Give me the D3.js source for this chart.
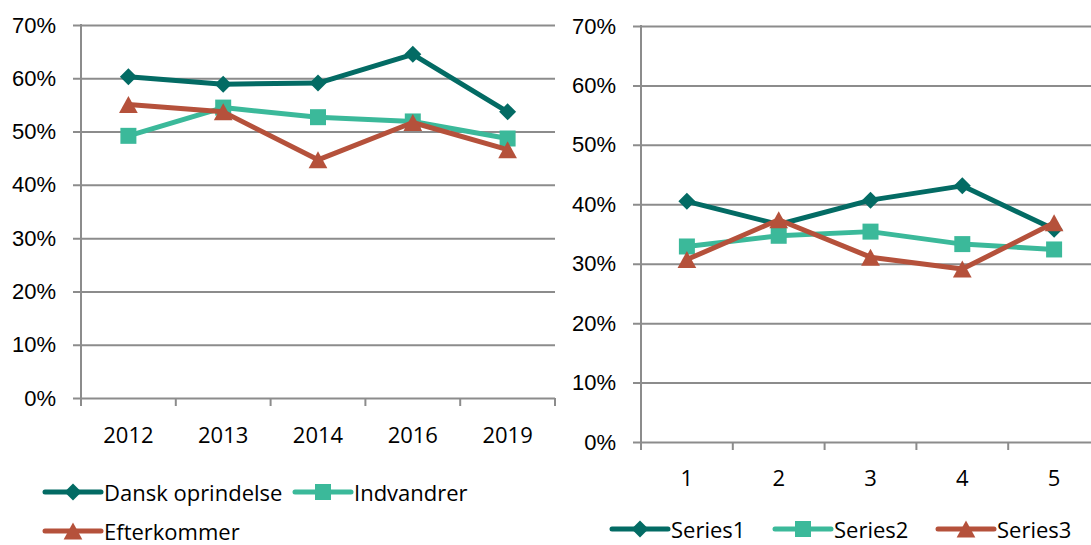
<!DOCTYPE html>
<html>
<head>
<meta charset="utf-8">
<title>Line charts</title>
<script src="https://d3js.org/d3.v7.min.js"></script>
<style>
  body { margin: 0; background: #fff; }
  svg { display: block; font-family: "Open Sans", "Noto Sans", sans-serif; }
  .lbl { font-size: 22px; fill: #000; }
</style>
</head>
<body>
<svg id="chart" width="1091" height="545"></svg>
<script>
// left chart data
var years = ["2012", "2013", "2014", "2016", "2019"];
var dansk = [0.603, 0.589, 0.591, 0.645, 0.537];
var indvandrer = [0.492, 0.545, 0.527, 0.519, 0.487];
var efterkommer = [0.551, 0.537, 0.447, 0.517, 0.466];
var leftNames = ["Dansk oprindelse", "Indvandrer", "Efterkommer"];

// right chart data
var points = ["1", "2", "3", "4", "5"];
var series1 = [0.405, 0.366, 0.407, 0.431, 0.358];
var series2 = [0.329, 0.347, 0.354, 0.333, 0.324];
var series3 = [0.307, 0.374, 0.311, 0.291, 0.369];
var rightNames = ["Series1", "Series2", "Series3"];

var yTicks = [0, 0.1, 0.2, 0.3, 0.4, 0.5, 0.6, 0.7];
var colors = ["#036b64", "#3bb99a", "#b5513b"];
var gridColor = "#8c8c8c";

var svg = d3.select("#chart");

// marker shapes, centred on the point
var diamond = { draw: function (c, s) { var r = Math.sqrt(s) / 2; c.moveTo(0, -r); c.lineTo(r, 0); c.lineTo(0, r); c.lineTo(-r, 0); c.closePath(); } };
var square = { draw: function (c, s) { var r = Math.sqrt(s) / 2; c.rect(-r, -r, 2 * r, 2 * r); } };
var triangle = { draw: function (c, s) { var r = Math.sqrt(s) / 2; c.moveTo(0, -r); c.lineTo(r * 1.1, r); c.lineTo(-r * 1.1, r); c.closePath(); } };
var shapes = [d3.symbol(diamond, 289), d3.symbol(square, 256), d3.symbol(triangle, 289)];

function drawChart(opt) {
  var x = d3.scaleBand().domain(opt.cats).range([opt.left, opt.right]);
  var y = d3.scaleLinear().domain([0, 0.7]).range([opt.bottom, opt.top]);
  var g = svg.append("g");

  // gridlines + y labels
  var yAxis = d3.axisLeft(y)
    .tickValues(yTicks)
    .tickFormat(d3.format(".0%"))
    .tickSize(opt.right - opt.left + 8)
    .tickPadding(17);
  var ya = g.append("g").attr("transform", "translate(" + opt.right + ",0)").call(yAxis);
  ya.select(".domain").remove();
  ya.selectAll("line").attr("stroke", gridColor).attr("stroke-width", 2);
  ya.selectAll("text").attr("class", "lbl").attr("font-size", null).attr("font-family", null);

  // vertical axis line
  g.append("line")
    .attr("x1", opt.left).attr("x2", opt.left)
    .attr("y1", y(0.7) - 1).attr("y2", opt.bottom + 8)
    .attr("stroke", gridColor).attr("stroke-width", 2);

  // category ticks at band edges
  var edges = opt.cats.map(function (c) { return x(c); }).concat([opt.right]);
  g.selectAll(".xt").data(edges).join("line")
    .attr("x1", function (d) { return d; }).attr("x2", function (d) { return d; })
    .attr("y1", opt.bottom).attr("y2", opt.bottom + 8)
    .attr("stroke", gridColor).attr("stroke-width", 2);

  g.selectAll(".xl").data(opt.cats).join("text")
    .attr("class", "lbl")
    .attr("x", function (d) { return x(d) + x.bandwidth() / 2; })
    .attr("y", opt.labelY)
    .attr("text-anchor", "middle")
    .attr("dominant-baseline", "central")
    .text(function (d) { return d; });

  var line = d3.line()
    .x(function (d, i) { return x(opt.cats[i]) + x.bandwidth() / 2; })
    .y(function (d) { return y(d); });

  opt.series.forEach(function (vals, k) {
    g.append("path").datum(vals)
      .attr("d", line)
      .attr("fill", "none")
      .attr("stroke", colors[k])
      .attr("stroke-width", 5)
      .attr("stroke-linejoin", "round")
      .attr("stroke-linecap", "round");
    g.selectAll(".m" + k).data(vals).join("path")
      .attr("transform", function (d, i) { return "translate(" + (x(opt.cats[i]) + x.bandwidth() / 2) + "," + y(d) + ")"; })
      .attr("d", shapes[k])
      .attr("fill", colors[k]);
  });

  // legend
  opt.legend.forEach(function (it, k) {
    var lg = g.append("g").attr("transform", "translate(" + it[0] + "," + it[1] + ")");
    lg.append("line").attr("x1", 0).attr("x2", 56).attr("y1", 0).attr("y2", 0)
      .attr("stroke", colors[k]).attr("stroke-width", 5).attr("stroke-linecap", "round");
    lg.append("path").attr("transform", "translate(28,0)").attr("d", shapes[k]).attr("fill", colors[k]);
    lg.append("text").attr("class", "lbl").attr("x", 59).attr("y", 0)
      .attr("dominant-baseline", "central").text(opt.names[k]);
  });
}

drawChart({
  cats: years, series: [dansk, indvandrer, efterkommer], names: leftNames,
  left: 81, right: 555, top: 25, bottom: 398, labelY: 434,
  legend: [[45, 492], [295, 492], [45, 531]]
});

drawChart({
  cats: points, series: [series1, series2, series3], names: rightNames,
  left: 641, right: 1100, top: 26, bottom: 442, labelY: 477,
  legend: [[612, 529], [775, 529], [938, 529]]
});
</script>
</body>
</html>
